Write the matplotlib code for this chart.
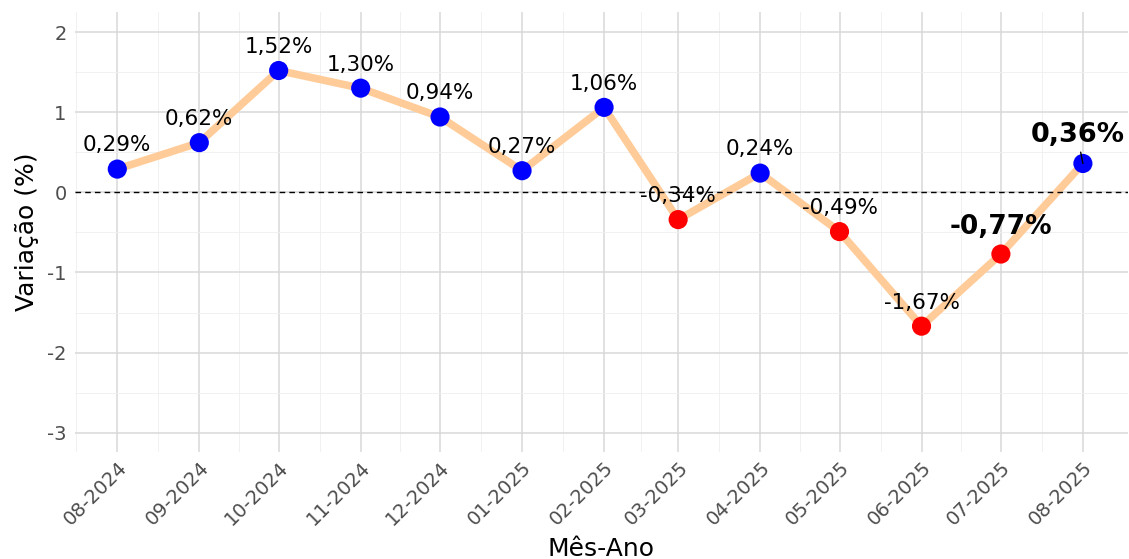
import pandas as pd
import numpy as np
import matplotlib
matplotlib.use("Agg")
import matplotlib.pyplot as plt
from matplotlib.ticker import MultipleLocator

# dados
meses = ['2024-08', '2024-09', '2024-10', '2024-11', '2024-12', '2025-01', '2025-02',
         '2025-03', '2025-04', '2025-05', '2025-06', '2025-07', '2025-08']
variacao = [0.29, 0.62, 1.52, 1.30, 0.94, 0.27, 1.06, -0.34, 0.24, -0.49, -1.67, -0.77, 0.36]
destaque = [False] * 11 + [True, True]

datas = pd.to_datetime([m + '-01' for m in meses])
cores = ['blue' if v >= 0 else 'red' for v in variacao]

fig = plt.figure(figsize=(11.29, 5.59), dpi=100)
ax = fig.add_axes([0.0664, 0.1914, 0.9326, 0.7871])

# grid estilo theme_minimal
ax.set_axisbelow(True)
for s in ax.spines.values():
    s.set_visible(False)
ax.grid(which='major', color='#D9D9D9', lw=1.1)
ax.grid(which='minor', color='#EFEFEF', lw=0.6)

ax.plot(datas, variacao, color='#FFCC99', lw=5.5, solid_capstyle='round', zorder=2)
ax.axhline(0, color='black', ls=(0, (4, 3)), lw=1.0, zorder=3)
ax.scatter(datas, variacao, c=cores, s=190, zorder=4, edgecolors='none')

for d, v, b in zip(datas, variacao, destaque):
    txt = f'{v:.2f}%'.replace('.', ',')
    if not b:
        ax.annotate(txt, (d, v), xytext=(0, 17), textcoords='offset points',
                    ha='center', va='center', fontsize=15.5, zorder=5)

# os dois ultimos em negrito
ax.annotate('-0,77%', (datas[11], variacao[11]), xytext=(0, 19.5), textcoords='offset points',
            ha='center', va='center', fontsize=19, fontweight='bold', zorder=5)
ax.annotate('0,36%', (datas[12], variacao[12]), xytext=(-4, 20.5), textcoords='offset points',
            ha='center', va='center', fontsize=19.5, fontweight='bold', zorder=5,
            arrowprops=dict(arrowstyle='-', color='black', lw=1, shrinkA=1, shrinkB=0))

ax.set_xlim(pd.Timestamp('2024-07-16'), pd.Timestamp('2025-08-18'))
ax.set_ylim(-3.24, 2.25)
ax.yaxis.set_major_locator(MultipleLocator(1))
ax.yaxis.set_minor_locator(MultipleLocator(0.5))
ax.set_xticks(datas)
ax.set_xticklabels([d.strftime('%m-%Y') for d in datas])
meios = datas[:-1] + (datas[1:] - datas[:-1]) / 2
ax.set_xticks(list(meios) + [datas[0] - (datas[1] - datas[0]) / 2], minor=True)
ax.yaxis.set_major_formatter(matplotlib.ticker.FuncFormatter(lambda v, p: f'{v:.0f}'))

ax.tick_params(which='both', length=0)
ax.tick_params(axis='y', labelsize=14, labelcolor='#4D4D4D', pad=6)
ax.tick_params(axis='x', labelsize=14, labelcolor='#4D4D4D', pad=4)
for lab in ax.get_xticklabels():
    lab.set_rotation(45)
    lab.set_ha('right')
    lab.set_rotation_mode('anchor')

ax.set_ylabel('Variação (%)', fontsize=18, labelpad=6)
ax.set_xlabel('Mês-Ano', fontsize=18, labelpad=6)

fig.savefig('out.png', dpi=100)
